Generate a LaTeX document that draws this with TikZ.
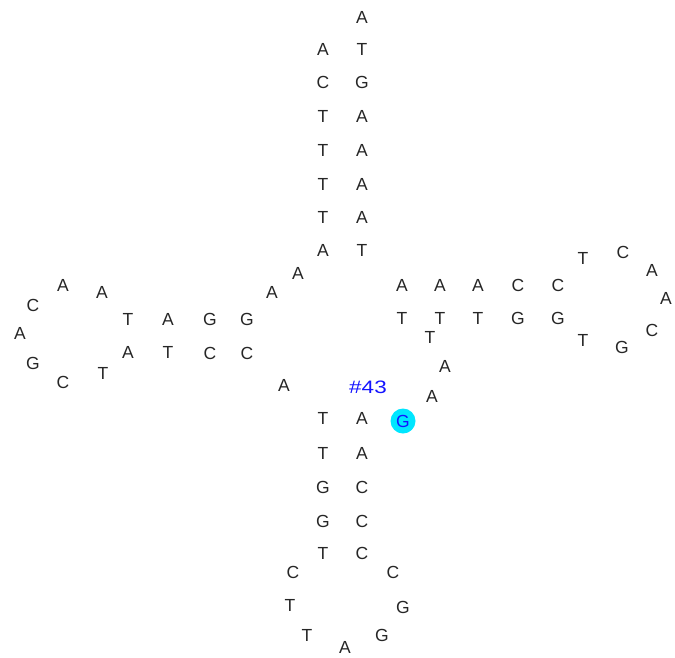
\documentclass[tikz,border=0pt]{standalone}
\usepackage{fontspec}
\setmainfont{Liberation Sans}
\definecolor{hilite}{RGB}{0,230,255}
\definecolor{numblue}{RGB}{20,20,255}
\begin{document}
\begin{tikzpicture}[x=1pt,y=-1pt,
  base/.style={inner sep=0pt,font=\fontsize{17.5}{17.5}\selectfont,text=black!85},
  marked/.style={base,text=numblue,circle,fill=hilite,minimum size=25pt},
  numlabel/.style={inner sep=0pt,font=\fontsize{18}{18}\selectfont,text=numblue,xscale=1.25}]
\useasboundingbox (0,0) rectangle (675,657);
% top stem
\foreach \x/\y/\t/\n in {
 362/17/A/t0, 323/49/A/t1, 362/49/T/t2, 323/82/C/t3, 362/82/G/t4,
 323/116/T/t5, 362/116/A/t6, 323/150/T/t7, 362/150/A/t8,
 323/184/T/t9, 362/184/A/t10, 323/217/T/t11, 362/217/A/t12,
 323/250/A/t13, 362/250/T/t14}
 \node[base] (\n) at (\x,\y) {\t};
% left arm
\foreach \x/\y/\t/\n in {
 298/273/A/l0, 272/292/A/l1,
 247/319/G/l2, 210/319/G/l3, 168/319/A/l4, 128/319/T/l5,
 102/292/A/l6, 63/285/A/l7, 33/305/C/l8, 20/333/A/l9, 33/363/G/l10,
 63/382/C/l11, 103/373/T/l12,
 128/352/A/l13, 168/352/T/l14, 210/353/C/l15, 247/353/C/l16,
 284/385/A/l17}
 \node[base] (\n) at (\x,\y) {\t};
% bottom stem
\foreach \x/\y/\t/\n in {
 323/418/T/b1, 362/418/A/b2, 323/453/T/b3, 362/453/A/b4,
 323/487/G/b5, 362/487/C/b6, 323/521/G/b7, 362/521/C/b8,
 323/553/T/b9, 362/553/C/b10,
 293/572/C/b11, 290/605/T/b12, 307/635/T/b13, 345/647/A/b14,
 382/635/G/b15, 403/607/G/b16, 393/572/C/b17}
 \node[base] (\n) at (\x,\y) {\t};
% right arm
\foreach \x/\y/\t/\n in {
 432/396/A/r0, 445/366/A/r1, 430/337/T/r2,
 402/318/T/r3, 440/318/T/r4, 478/318/T/r5, 518/318/G/r6, 558/318/G/r7,
 583/340/T/r8, 622/347/G/r9, 652/330/C/r10, 666/298/A/r11, 652/270/A/r12,
 623/252/C/r13, 583/258/T/r14,
 558/285/C/r15, 518/285/C/r16, 478/285/A/r17, 440/285/A/r18, 402/285/A/r19}
 \node[base] (\n) at (\x,\y) {\t};
\node[marked] (g43) at (403,421) {G};
\node[numlabel] (lab43) at (368,387) {\#43};
\end{tikzpicture}
\end{document}
